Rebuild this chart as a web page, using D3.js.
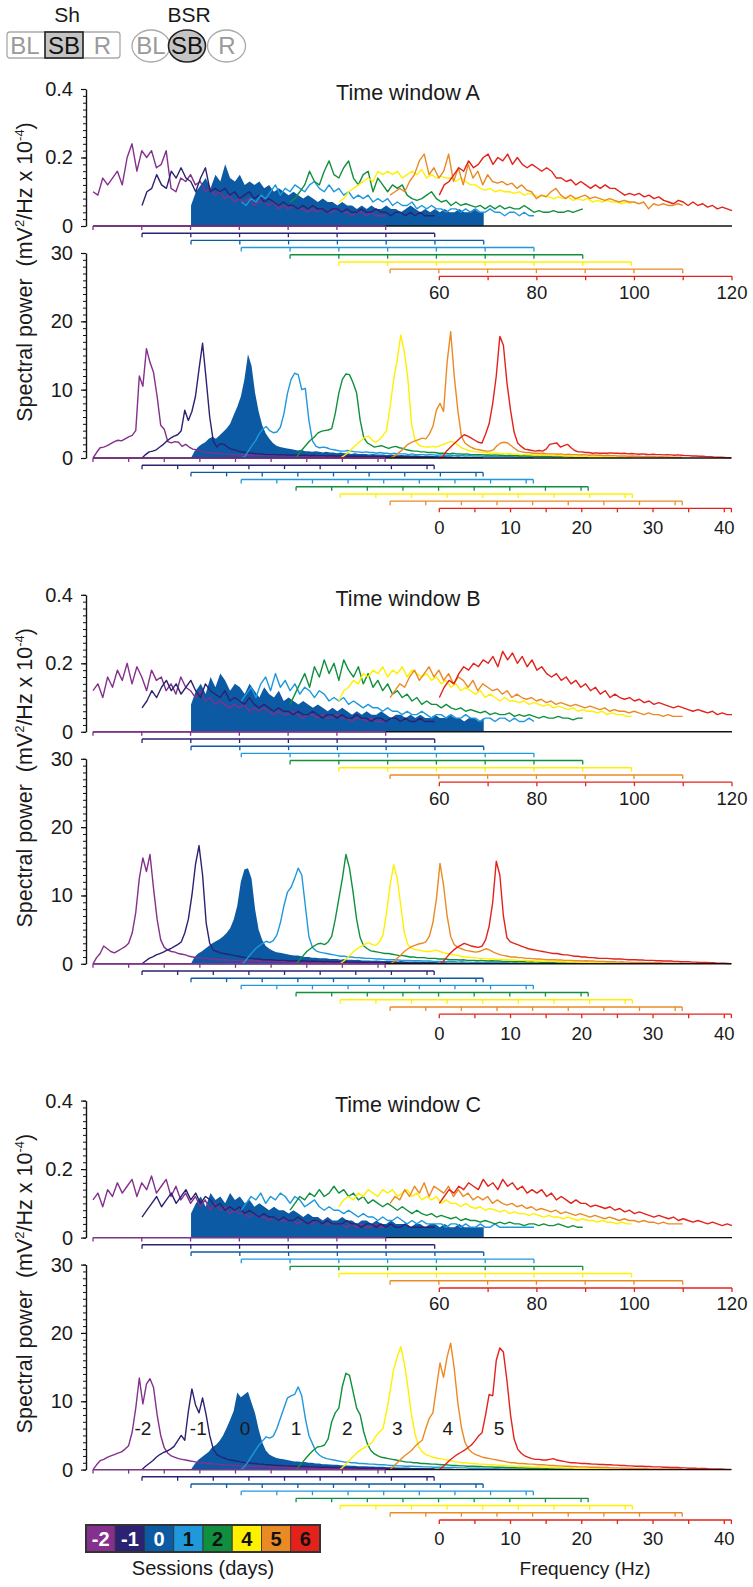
<!DOCTYPE html>
<html><head><meta charset="utf-8">
<script src="https://cdn.jsdelivr.net/npm/d3@7"></script>
<style>
body{margin:0;background:#fff}
svg{display:block}
text{font-family:"Liberation Sans",Arial,sans-serif}
</style>
</head><body>
<svg id="c" width="753" height="1587"></svg>
<script>
// ---------------- DATA ----------------
const sessions = ["-2","-1","0","1","2","4","5","6"];
const sessionColors = ["#84308c","#2b2272","#0b5aa3","#1f98dc","#10903f","#fff000","#ea8a25","#e3221b"];
const legendTextColors = ["#fff","#fff","#fff","#111","#111","#111","#111","#111"];
const peakLabels = ["-2","-1","0","1","2","3","4","5"];
const peakLabelHz = [7.0,7.9,7.6,7.7,7.2,8.0,8.1,8.4];
const peakLabelLevel = 6.0;
const windowNames = ["Time window A","Time window B","Time window C"];
const filledSession = 2;

const gammaStepHz = 1;      // 60..120 Hz
const thetaStepHz = 0.5;    // 0..41 Hz
const gammaShiftHz = [0,10.05,20.1,30.4,40.4,50.4,60.9,71.0];
const thetaShiftHz = [0,6.88,13.75,20.8,28.5,34.7,41.7,48.6];
const gammaRulerTicks = [0,10,20,30,40,50,60];
const thetaRulerTicks = [0,5,10,15,20,25,30,35,40,41];
const gammaTickLabels = [60,80,100,120];
const thetaTickLabels = [0,10,20,30,40];
const gammaYTicks = [0,0.2,0.4];
const thetaYTicks = [0,10,20,30];

// ---- gamma (60-120 Hz), mV^2/Hz x 10^-4 ----
const gA_m2=[.10,.09,.14,.12,.14,.16,.12,.20,.24,.16,.22,.20,.22,.17,.18,.22,.11,.10,.14,.13,.15,.12,.13,.10,.11,.09,.10,.08,.09,.07,.08,.07,.08,.06,.07,.07,.06,.07,.05,.06,.05,.06,.05,.05,.04,.05,.04,.05,.04,.04,.05,.04,.04,.03,.04,.04,.03,.04,.03,.03,.03];
const gA_m1=[.06,.10,.11,.15,.12,.11,.16,.14,.17,.14,.13,.10,.14,.17,.10,.11,.10,.11,.09,.10,.08,.09,.10,.08,.09,.07,.08,.07,.06,.07,.06,.06,.05,.06,.05,.06,.05,.05,.04,.05,.05,.04,.05,.04,.04,.05,.04,.04,.05,.04,.04,.03,.04,.04,.03,.04,.03,.04,.03,.03,.03];
const gA_0=[.06,.10,.12,.14,.11,.15,.13,.18,.14,.13,.15,.12,.13,.12,.13,.11,.12,.10,.11,.10,.09,.10,.09,.08,.09,.08,.07,.08,.07,.07,.06,.07,.06,.06,.05,.06,.05,.06,.05,.05,.06,.05,.05,.04,.05,.06,.05,.04,.05,.04,.05,.04,.05,.04,.04,.05,.04,.04,.05,.04,.04];
const gA_1=[.07,.06,.08,.07,.09,.08,.10,.12,.09,.11,.10,.12,.11,.10,.12,.13,.11,.10,.12,.10,.11,.09,.10,.08,.09,.08,.09,.07,.08,.07,.08,.06,.07,.06,.06,.07,.05,.06,.05,.06,.05,.05,.04,.05,.05,.04,.05,.04,.05,.04,.04,.05,.04,.04,.03,.04,.04,.03,.04,.03,.03];
const gA_2=[.07,.08,.10,.12,.16,.13,.12,.16,.19,.15,.14,.17,.19,.14,.12,.15,.16,.10,.14,.12,.10,.12,.11,.12,.09,.08,.075,.08,.09,.10,.08,.07,.075,.06,.07,.06,.065,.06,.055,.06,.05,.06,.05,.06,.05,.055,.05,.05,.06,.05,.04,.045,.04,.04,.045,.04,.04,.045,.04,.045,.05];
const gA_4=[.07,.08,.10,.11,.12,.13,.14,.13,.16,.15,.16,.15,.16,.14,.15,.16,.15,.165,.14,.15,.14,.145,.14,.14,.13,.14,.13,.12,.12,.11,.105,.11,.10,.105,.10,.10,.095,.10,.09,.095,.09,.085,.09,.085,.08,.085,.08,.085,.075,.08,.075,.08,.07,.075,.07,.075,.07,.07,.065,.07,.065];
const gA_5=[.09,.10,.11,.10,.13,.15,.19,.21,.15,.17,.14,.16,.21,.13,.17,.12,.18,.14,.16,.12,.15,.13,.125,.13,.12,.125,.11,.12,.105,.10,.08,.09,.085,.10,.11,.09,.08,.09,.08,.085,.09,.08,.085,.08,.075,.08,.075,.07,.075,.07,.07,.065,.07,.05,.065,.06,.065,.06,.06,.065,.06];
const gA_6=[.09,.12,.13,.15,.17,.16,.19,.17,.18,.20,.21,.18,.20,.19,.21,.18,.20,.18,.17,.18,.17,.16,.17,.16,.14,.14,.13,.135,.12,.13,.12,.11,.12,.11,.12,.11,.11,.10,.09,.095,.09,.095,.085,.09,.08,.085,.075,.07,.065,.075,.07,.06,.07,.06,.065,.055,.06,.05,.055,.05,.045];

const gB_m2=[.12,.14,.10,.16,.13,.18,.15,.20,.14,.19,.16,.12,.18,.15,.16,.12,.14,.11,.16,.13,.12,.10,.12,.09,.10,.08,.09,.08,.07,.08,.07,.08,.06,.07,.06,.07,.06,.05,.06,.05,.05,.06,.05,.04,.05,.05,.04,.05,.04,.04,.05,.04,.04,.03,.04,.04,.03,.04,.03,.03,.03];
const gB_m1=[.07,.09,.12,.10,.13,.15,.12,.14,.11,.13,.15,.12,.10,.14,.12,.11,.10,.12,.09,.10,.09,.08,.10,.08,.07,.08,.07,.06,.07,.06,.06,.05,.06,.05,.05,.06,.05,.04,.05,.05,.04,.05,.04,.04,.05,.04,.04,.03,.04,.04,.03,.04,.04,.03,.04,.03,.03,.04,.03,.03,.03];
const gB_0=[.08,.12,.14,.11,.16,.13,.17,.15,.12,.14,.13,.11,.14,.12,.10,.13,.11,.10,.12,.09,.10,.09,.08,.09,.08,.07,.08,.07,.06,.07,.06,.07,.06,.05,.06,.05,.06,.05,.05,.06,.05,.04,.05,.05,.04,.05,.04,.05,.04,.04,.05,.04,.04,.05,.04,.04,.03,.04,.04,.03,.04];
const gB_1=[.09,.11,.13,.10,.14,.16,.12,.17,.13,.15,.12,.14,.11,.13,.12,.10,.12,.11,.09,.10,.09,.10,.08,.09,.08,.07,.08,.07,.07,.06,.07,.06,.06,.05,.06,.05,.05,.06,.05,.04,.05,.05,.04,.05,.04,.04,.05,.04,.04,.03,.04,.04,.03,.04,.04,.03,.04,.03,.03,.04,.03];
const gB_2=[.08,.11,.14,.17,.13,.19,.16,.21,.17,.20,.15,.21,.18,.16,.19,.14,.17,.13,.15,.12,.14,.11,.12,.10,.11,.09,.10,.08,.09,.08,.08,.07,.08,.07,.065,.07,.06,.065,.06,.055,.06,.05,.055,.05,.05,.055,.045,.05,.045,.05,.045,.04,.045,.04,.04,.045,.04,.04,.035,.04,.04];
const gB_4=[.09,.12,.13,.15,.14,.17,.16,.18,.17,.19,.16,.18,.17,.19,.16,.18,.17,.16,.17,.15,.16,.14,.15,.13,.14,.12,.13,.12,.11,.12,.10,.11,.10,.09,.10,.09,.09,.085,.09,.08,.085,.08,.075,.08,.07,.075,.07,.065,.07,.06,.065,.06,.06,.055,.06,.05,.055,.05,.05,.045,.045];
const gB_5=[.10,.12,.14,.13,.16,.18,.15,.17,.19,.16,.18,.15,.17,.14,.16,.15,.13,.15,.12,.14,.13,.12,.125,.11,.12,.10,.11,.10,.095,.10,.09,.095,.085,.09,.08,.085,.08,.075,.08,.075,.07,.075,.07,.065,.07,.06,.065,.06,.06,.055,.06,.055,.05,.055,.05,.05,.045,.05,.045,.045,.045];
const gB_6=[.10,.13,.15,.14,.17,.19,.18,.20,.19,.21,.20,.22,.19,.235,.21,.23,.20,.22,.19,.21,.18,.19,.17,.16,.17,.15,.16,.14,.15,.13,.14,.12,.13,.11,.12,.10,.11,.10,.095,.10,.09,.095,.085,.09,.08,.085,.08,.075,.07,.075,.07,.065,.06,.065,.06,.055,.06,.05,.055,.05,.05];

const gC_m2=[.11,.13,.09,.14,.12,.16,.13,.15,.17,.12,.16,.14,.18,.13,.15,.17,.12,.15,.11,.13,.10,.12,.09,.11,.08,.10,.08,.09,.07,.08,.07,.07,.06,.07,.06,.06,.05,.06,.05,.05,.05,.05,.04,.05,.04,.04,.05,.04,.04,.04,.04,.04,.03,.04,.03,.04,.03,.03,.04,.03,.03];
const gC_m1=[.06,.08,.10,.12,.09,.11,.13,.10,.12,.14,.11,.13,.10,.12,.11,.09,.10,.08,.09,.08,.09,.07,.08,.07,.06,.07,.06,.06,.05,.06,.05,.05,.06,.05,.04,.05,.05,.04,.05,.04,.04,.04,.05,.04,.04,.03,.04,.04,.03,.04,.03,.04,.03,.03,.04,.03,.03,.03,.03,.03,.03];
const gC_0=[.07,.10,.12,.09,.13,.11,.12,.10,.13,.11,.12,.10,.11,.09,.10,.09,.08,.09,.08,.08,.07,.08,.07,.06,.07,.06,.06,.05,.06,.05,.05,.06,.05,.05,.04,.05,.05,.04,.05,.04,.04,.05,.04,.04,.04,.03,.04,.04,.03,.04,.04,.03,.04,.03,.03,.04,.03,.03,.03,.03,.03];
const gC_1=[.08,.10,.12,.11,.13,.10,.12,.11,.13,.12,.10,.12,.11,.09,.10,.11,.09,.08,.09,.08,.08,.07,.08,.07,.06,.07,.06,.06,.05,.06,.05,.05,.06,.05,.04,.05,.04,.05,.04,.04,.04,.04,.03,.04,.04,.03,.04,.03,.03,.04,.03,.03,.04,.03,.03,.03,.03,.03,.03,.03,.03];
const gC_2=[.08,.10,.12,.11,.13,.12,.14,.12,.13,.15,.13,.14,.12,.13,.11,.12,.10,.11,.10,.09,.10,.09,.08,.09,.08,.07,.08,.07,.065,.07,.06,.065,.06,.055,.06,.05,.055,.05,.05,.045,.05,.045,.04,.045,.04,.045,.04,.04,.035,.04,.04,.035,.04,.035,.035,.04,.035,.03,.035,.03,.03];
const gC_4=[.09,.11,.12,.11,.13,.12,.14,.13,.12,.14,.13,.14,.12,.13,.14,.12,.13,.11,.12,.11,.12,.10,.11,.10,.10,.09,.10,.09,.085,.09,.08,.085,.08,.075,.08,.07,.075,.07,.07,.065,.07,.065,.06,.065,.06,.06,.055,.06,.055,.05,.055,.05,.05,.045,.05,.045,.045,.04,.045,.04,.04];
const gC_5=[.10,.12,.11,.14,.12,.15,.13,.16,.12,.15,.14,.13,.15,.12,.14,.12,.13,.11,.12,.11,.12,.10,.11,.10,.095,.10,.09,.095,.085,.09,.08,.085,.08,.075,.08,.07,.075,.07,.065,.07,.065,.06,.065,.06,.055,.06,.055,.05,.055,.05,.05,.045,.05,.045,.045,.04,.045,.04,.04,.04,.04];
const gC_6=[.10,.12,.14,.13,.15,.14,.16,.15,.14,.17,.15,.16,.14,.17,.15,.16,.14,.15,.13,.14,.13,.14,.12,.13,.11,.12,.11,.10,.11,.10,.10,.09,.095,.09,.085,.09,.08,.085,.075,.08,.07,.075,.07,.065,.06,.065,.06,.055,.06,.05,.055,.05,.045,.05,.045,.04,.045,.04,.035,.04,.035];

// ---- theta (0-41 Hz, 0.5 Hz bins), mV^2/Hz x 10^-4 ----
const tA_m2=[0,0.8,1.5,1.6,1.8,2.1,2.4,2.6,2.5,2.8, 3.1,3.3,4.0,12.0,10.5,16.0,14.0,12.5,9.0,4.8, 4.2,2.4,2.2,2.4,2.3,1.7,2.0,1.6,1.3,1.2, 1.0,0.9,0.8,0.8,0.7,0.7,0.6,0.6,0.6,0.5, 0.5,0.5,0.5,0.45,0.5,0.45,0.45,0.4,0.45,0.4, 0.4,0.4,0.35,0.4,0.35,0.35,0.35,0.3,0.35,0.3, 0.3,0.3,0.3,0.25,0.3,0.25,0.25,0.25,0.2,0.25, 0.2,0.2,0.2,0.2,0.15,0.2,0.15,0.15,0.15,0.1, 0.1,0.1,0.1];
const tA_m1=[0,0.5,0.9,1.0,1.2,1.6,2.0,2.5,2.9,3.2, 3.4,4.0,7.0,5.5,6.8,9.0,13.0,16.8,11.5,6.0, 2.5,1.6,2.1,2.0,1.6,1.3,1.2,1.0,0.9,0.8, 0.7,0.7,0.6,0.6,0.55,0.5,0.5,0.5,0.45,0.5, 0.45,0.45,0.4,0.45,0.4,0.4,0.4,0.35,0.4,0.35, 0.35,0.35,0.3,0.35,0.3,0.3,0.3,0.3,0.25,0.3, 0.25,0.25,0.25,0.25,0.2,0.25,0.2,0.2,0.2,0.2, 0.2,0.15,0.2,0.15,0.15,0.15,0.1,0.15,0.1,0.1, 0.1,0.1,0.1];
const tA_0=[0,1.0,1.6,2.0,2.3,2.8,3.1,2.8,3.3,3.8, 4.3,5.0,6.3,7.5,9.0,11.5,15.2,13.5,9.5,6.8, 4.8,3.6,2.8,2.2,1.8,1.6,1.5,1.4,1.3,1.2, 1.1,1.2,1.0,1.0,0.9,1.0,0.9,0.8,0.9,0.8, 0.8,0.7,0.8,0.7,0.7,0.6,0.7,0.6,0.6,0.6, 0.5,0.6,0.5,0.5,0.5,0.45,0.5,0.45,0.4,0.45, 0.4,0.4,0.35,0.4,0.35,0.3,0.35,0.3,0.3,0.3, 0.25,0.3,0.25,0.25,0.2,0.25,0.2,0.2,0.2,0.15, 0.15,0.15,0.15];
const tA_1=[0,0.2,1.0,1.8,2.5,3.5,4.2,4.6,4.0,3.7, 3.8,4.5,6.5,9.5,11.5,12.4,12.2,10.0,10.2,5.5, 2.5,1.7,1.5,1.6,1.5,1.3,1.2,1.1,1.0,1.0, 1.1,1.0,0.9,0.9,0.8,0.9,0.8,0.8,0.7,0.8, 0.7,0.7,0.6,0.7,0.6,0.6,0.6,0.5,0.6,0.5, 0.5,0.5,0.45,0.5,0.45,0.4,0.45,0.4,0.4,0.4, 0.35,0.4,0.35,0.3,0.35,0.3,0.3,0.3,0.25,0.3, 0.25,0.25,0.2,0.25,0.2,0.2,0.2,0.15,0.2,0.15, 0.15,0.15,0.1];
const tA_2=[0,0.8,1.4,2.0,2.6,3.0,3.6,3.9,4.0,4.1, 4.3,6.5,9.5,11.5,12.3,12.2,11.0,9.5,5.5,3.0, 2.2,1.9,1.6,1.7,1.8,1.6,1.4,1.6,1.7,1.5, 1.4,1.2,1.1,1.0,1.0,0.9,0.9,0.8,0.8,0.8, 0.7,0.7,0.7,0.6,0.7,0.6,0.6,0.55,0.6,0.5, 0.5,0.5,0.5,0.45,0.45,0.4,0.45,0.4,0.4,0.35, 0.4,0.35,0.35,0.3,0.35,0.3,0.3,0.25,0.3,0.25, 0.25,0.25,0.2,0.25,0.2,0.2,0.2,0.15,0.15,0.15, 0.15,0.1,0.1];
const tA_4=[0,0.3,0.7,1.2,1.7,2.2,2.6,3.1,3.2,2.6, 2.3,2.7,3.3,4.0,7.5,11.5,14.4,18.0,15.5,11.5, 5.0,2.6,1.9,1.7,1.6,1.6,1.7,1.6,1.8,2.0, 2.2,2.4,2.3,1.9,1.5,1.3,1.1,1.0,0.9,0.9, 0.8,0.8,0.7,0.7,0.7,0.65,0.6,0.65,0.6,0.55, 0.55,0.5,0.5,0.5,0.45,0.45,0.4,0.45,0.4,0.4, 0.35,0.35,0.35,0.3,0.3,0.3,0.25,0.3,0.25,0.25, 0.2,0.25,0.2,0.2,0.2,0.15,0.15,0.15,0.1,0.15, 0.1,0.1,0.1];
const tA_5=[0,0.2,0.6,1.0,1.5,2.0,2.3,2.5,2.7,2.9, 2.8,3.5,4.6,7.0,8.0,6.8,14.0,18.5,12.0,7.0, 3.2,2.2,1.8,1.5,1.3,1.2,1.1,1.0,1.0,1.2, 1.8,2.2,2.3,2.2,1.8,1.4,1.0,0.9,0.8,0.8, 0.7,0.7,0.65,0.7,0.6,0.6,0.6,0.55,0.6,0.5, 0.55,0.5,0.5,0.45,0.5,0.45,0.4,0.45,0.4,0.4, 0.35,0.4,0.35,0.35,0.3,0.3,0.3,0.25,0.3,0.25, 0.25,0.2,0.25,0.2,0.2,0.15,0.2,0.15,0.15,0.1, 0.1,0.1,0.1];
const tA_6=[0,0.2,1.0,1.5,2.0,2.5,3.0,3.4,3.2,2.9, 2.6,2.3,2.2,3.5,5.0,8.0,12.0,17.8,16.5,11.0, 7.0,3.8,2.2,1.7,1.3,1.2,1.1,1.0,1.1,1.0, 1.3,2.0,2.1,2.2,1.6,1.8,2.0,1.5,1.1,0.9, 0.9,0.8,0.8,0.7,0.75,0.7,0.7,0.7,0.75,0.7, 0.7,0.65,0.7,0.6,0.65,0.6,0.55,0.6,0.55,0.5, 0.55,0.5,0.5,0.45,0.5,0.45,0.4,0.45,0.4,0.35, 0.35,0.3,0.3,0.25,0.25,0.2,0.2,0.15,0.12,0.1, 0.08,0.05,0.03];

const tB_m2=[0,0.9,1.5,2.6,2.2,1.8,1.6,1.9,2.2,2.5, 3.0,4.5,7.5,12.5,15.5,13.5,16.0,11.0,6.5,3.5, 2.4,2.0,1.8,1.7,1.5,1.4,1.3,1.1,1.0,0.9, 0.9,0.8,0.8,0.7,0.7,0.6,0.6,0.6,0.55,0.5, 0.5,0.5,0.45,0.5,0.45,0.4,0.45,0.4,0.4,0.4, 0.35,0.4,0.35,0.35,0.3,0.35,0.3,0.3,0.3,0.25, 0.3,0.25,0.25,0.25,0.2,0.25,0.2,0.2,0.2,0.2, 0.15,0.2,0.15,0.15,0.15,0.1,0.15,0.1,0.1,0.1, 0.1,0.1,0.1];
const tB_m1=[0,0.4,0.8,1.0,1.3,1.5,1.7,2.0,2.2,2.5, 2.8,3.2,4.5,6.5,10.0,14.5,17.3,13.0,6.0,3.0, 2.0,1.8,1.6,1.5,1.4,1.3,1.2,1.1,1.0,0.9, 0.8,0.8,0.7,0.7,0.6,0.6,0.6,0.55,0.5,0.5, 0.5,0.45,0.45,0.4,0.45,0.4,0.4,0.35,0.4,0.35, 0.35,0.3,0.35,0.3,0.3,0.3,0.25,0.3,0.25,0.25, 0.25,0.2,0.25,0.2,0.2,0.2,0.2,0.15,0.2,0.15, 0.15,0.15,0.15,0.1,0.15,0.1,0.1,0.1,0.1,0.1, 0.1,0.1,0.1];
const tB_0=[0,1.0,1.5,1.8,2.2,2.6,3.0,3.3,3.6,4.0, 4.5,5.2,6.5,8.5,12.0,13.8,14.0,12.5,8.0,5.0, 3.5,2.6,2.2,1.9,1.7,1.6,1.5,1.4,1.3,1.2, 1.2,1.1,1.0,1.0,0.9,0.9,0.8,0.8,0.8,0.7, 0.7,0.7,0.6,0.7,0.6,0.6,0.55,0.6,0.5,0.5, 0.5,0.45,0.5,0.45,0.4,0.45,0.4,0.4,0.35,0.4, 0.35,0.35,0.3,0.35,0.3,0.3,0.25,0.3,0.25,0.25, 0.2,0.25,0.2,0.2,0.2,0.15,0.2,0.15,0.15,0.15, 0.1,0.1,0.1];
const tB_1=[0,0.3,1.0,1.6,2.2,2.6,3.0,3.3,3.1,3.4, 4.2,6.0,8.5,10.5,11.2,12.5,14.0,13.0,8.5,4.0, 2.4,1.9,1.7,1.6,1.5,1.4,1.3,1.2,1.1,1.1, 1.0,1.0,0.9,0.9,0.85,0.8,0.8,0.75,0.7,0.7, 0.65,0.6,0.6,0.6,0.55,0.5,0.5,0.5,0.45,0.45, 0.45,0.4,0.4,0.4,0.35,0.35,0.35,0.3,0.35,0.3, 0.3,0.25,0.3,0.25,0.25,0.2,0.25,0.2,0.2,0.2, 0.2,0.15,0.2,0.15,0.15,0.15,0.1,0.15,0.1,0.1, 0.1,0.1,0.1];
const tB_2=[0,0.6,1.2,1.8,2.2,2.6,2.9,3.0,2.8,3.2, 4.0,6.5,9.5,12.5,16.0,14.0,10.5,6.5,3.8,2.6, 2.2,1.9,1.8,1.7,1.6,1.5,1.5,1.4,1.3,1.2, 1.2,1.1,1.0,1.0,0.9,0.9,0.9,0.8,0.8,0.8, 0.7,0.7,0.7,0.6,0.6,0.6,0.55,0.6,0.5,0.5, 0.5,0.45,0.5,0.45,0.4,0.45,0.4,0.4,0.35,0.35, 0.35,0.3,0.35,0.3,0.3,0.25,0.3,0.25,0.25,0.2, 0.2,0.25,0.2,0.2,0.15,0.2,0.15,0.15,0.15,0.1, 0.1,0.1,0.1];
const tB_4=[0,0.4,0.9,1.4,1.9,2.3,2.6,2.9,3.1,2.8, 2.7,3.2,4.2,7.5,11.5,14.5,12.5,8.5,4.5,2.8, 2.3,2.1,2.0,1.9,1.8,1.8,1.9,2.0,1.8,1.6, 1.5,1.4,1.3,1.2,1.1,1.0,1.0,0.9,0.9,0.8, 0.8,0.75,0.7,0.7,0.65,0.65,0.6,0.6,0.55,0.55, 0.5,0.5,0.5,0.45,0.45,0.4,0.4,0.4,0.35,0.35, 0.35,0.3,0.3,0.3,0.25,0.3,0.25,0.25,0.2,0.25, 0.2,0.2,0.2,0.15,0.2,0.15,0.15,0.15,0.1,0.1, 0.1,0.1,0.1];
const tB_5=[0,0.3,0.8,1.3,1.8,2.2,2.5,2.7,2.9,3.0, 3.2,4.0,6.0,9.5,14.7,11.5,7.0,4.0,2.8,2.4, 2.2,2.0,1.9,1.8,1.7,1.8,2.0,2.2,2.0,1.7, 1.5,1.3,1.2,1.1,1.0,1.0,0.9,0.9,0.8,0.8, 0.75,0.7,0.7,0.65,0.6,0.6,0.6,0.55,0.55,0.5, 0.5,0.5,0.45,0.45,0.4,0.45,0.4,0.4,0.35,0.35, 0.35,0.3,0.3,0.3,0.25,0.3,0.25,0.25,0.2,0.2, 0.2,0.2,0.15,0.2,0.15,0.15,0.15,0.1,0.1,0.1, 0.1,0.1,0.1];
const tB_6=[0,0.3,0.9,1.5,2.0,2.4,2.7,3.0,2.8,2.6, 2.5,2.4,2.6,3.5,5.5,9.0,15.0,13.0,7.0,3.8, 3.2,3.0,2.8,2.6,2.4,2.2,2.1,2.0,1.9,1.8, 1.7,1.6,1.5,1.5,1.4,1.3,1.3,1.2,1.1,1.1, 1.0,1.0,0.9,0.9,0.85,0.8,0.8,0.8,0.75,0.7, 0.7,0.7,0.65,0.6,0.6,0.6,0.55,0.55,0.5,0.5, 0.5,0.45,0.45,0.4,0.4,0.4,0.35,0.35,0.3,0.3, 0.3,0.25,0.25,0.2,0.2,0.2,0.15,0.15,0.1,0.1, 0.08,0.05,0.03];

const tC_m2=[0,0.7,1.3,1.5,1.8,2.0,2.2,2.4,2.6,3.0, 3.5,5.5,9.0,13.4,9.6,12.5,13.3,12.0,8.0,5.0, 3.2,2.4,2.0,1.8,1.6,1.5,1.4,1.3,1.2,1.1, 1.0,1.0,0.9,0.9,0.8,0.8,0.7,0.7,0.65,0.6, 0.6,0.55,0.55,0.5,0.5,0.45,0.45,0.45,0.4,0.4, 0.4,0.35,0.35,0.35,0.3,0.3,0.3,0.3,0.25,0.25, 0.25,0.25,0.2,0.25,0.2,0.2,0.2,0.2,0.15,0.15, 0.15,0.15,0.15,0.1,0.15,0.1,0.1,0.1,0.1,0.1, 0.1,0.1,0.1];
const tC_m1=[0,0.5,0.9,1.3,1.8,2.2,2.5,2.7,3.0,3.4, 4.2,5.0,4.3,8.5,11.8,9.5,8.3,10.5,8.0,5.0, 3.0,2.2,1.9,1.7,1.5,1.4,1.3,1.2,1.1,1.0, 1.0,0.9,0.9,0.8,0.8,0.7,0.7,0.65,0.6,0.6, 0.55,0.55,0.5,0.5,0.45,0.45,0.45,0.4,0.4,0.4, 0.35,0.35,0.35,0.3,0.3,0.3,0.3,0.25,0.25,0.25, 0.25,0.2,0.2,0.2,0.2,0.2,0.15,0.15,0.15,0.15, 0.15,0.1,0.15,0.1,0.1,0.1,0.1,0.1,0.1,0.1, 0.1,0.1,0.1];
const tC_0=[0,0.8,1.4,1.8,2.2,2.6,3.3,3.6,4.2,5.0, 6.1,7.3,8.6,11.3,10.6,11.0,11.4,9.8,8.2,5.9, 4.0,2.8,2.2,1.9,1.7,1.6,1.5,1.4,1.3,1.2, 1.2,1.1,1.1,1.0,1.0,0.9,0.9,0.8,0.8,0.75, 0.7,0.7,0.65,0.6,0.6,0.55,0.55,0.5,0.5,0.5, 0.45,0.45,0.4,0.4,0.4,0.35,0.35,0.35,0.3,0.3, 0.3,0.3,0.25,0.25,0.25,0.2,0.2,0.2,0.2,0.15, 0.15,0.15,0.15,0.15,0.1,0.1,0.1,0.1,0.1,0.1, 0.1,0.1,0.1];
const tC_1=[0,0.5,1.2,2.0,2.8,3.6,4.2,4.8,4.6,4.9, 6.0,7.5,9.0,10.5,10.8,11.0,12.1,10.8,7.5,5.0, 3.8,2.6,2.1,1.8,1.6,1.5,1.4,1.3,1.2,1.1, 1.1,1.0,1.0,0.9,0.9,0.85,0.8,0.8,0.75,0.7, 0.7,0.65,0.6,0.6,0.55,0.55,0.5,0.5,0.5,0.45, 0.45,0.4,0.4,0.4,0.35,0.35,0.35,0.3,0.3,0.3, 0.3,0.25,0.25,0.25,0.2,0.2,0.2,0.2,0.15,0.15, 0.15,0.15,0.15,0.1,0.1,0.1,0.1,0.1,0.1,0.1, 0.1,0.1,0.1];
const tC_2=[0,0.6,1.2,1.8,2.4,2.9,3.3,3.4,3.6,4.5, 7.0,8.3,9.0,12.2,14.1,13.8,11.4,9.0,8.0,5.5, 3.8,2.8,2.3,2.0,1.8,1.7,1.6,1.5,1.4,1.3, 1.2,1.1,1.1,1.0,1.0,0.9,0.9,0.85,0.8,0.8, 0.75,0.7,0.7,0.65,0.6,0.6,0.55,0.55,0.5,0.5, 0.5,0.45,0.45,0.4,0.4,0.4,0.35,0.35,0.35,0.3, 0.3,0.3,0.25,0.25,0.25,0.2,0.2,0.2,0.2,0.15, 0.15,0.15,0.15,0.1,0.1,0.1,0.1,0.1,0.1,0.1, 0.1,0.1,0.1];
const tC_4=[0,0.5,1.0,1.6,2.1,2.6,3.0,3.3,3.6,4.0, 4.9,5.5,6.0,8.5,11.5,14.7,16.5,18.0,15.5,12.0, 8.0,5.2,3.4,2.6,2.2,2.0,1.8,1.7,1.6,1.5, 1.4,1.3,1.2,1.1,1.0,1.0,0.95,0.9,0.85,0.8, 0.8,0.75,0.7,0.7,0.65,0.6,0.6,0.55,0.55,0.5, 0.5,0.5,0.45,0.45,0.4,0.4,0.4,0.35,0.35,0.3, 0.3,0.3,0.3,0.25,0.25,0.25,0.2,0.2,0.2,0.2, 0.15,0.15,0.15,0.15,0.1,0.1,0.1,0.1,0.1,0.1, 0.1,0.1,0.1];
const tC_5=[0,0.5,1.0,1.5,2.0,2.4,2.8,3.4,3.9,4.3, 6.0,7.5,8.3,12.0,15.6,13.5,16.5,18.5,14.8,9.8, 6.2,4.0,3.0,2.5,2.2,2.0,1.8,1.7,1.6,1.5, 1.4,1.3,1.2,1.1,1.0,1.0,0.9,0.9,0.85,0.8, 0.8,0.75,0.7,0.7,0.65,0.6,0.6,0.55,0.55,0.5, 0.5,0.45,0.45,0.4,0.4,0.4,0.35,0.35,0.35,0.3, 0.3,0.3,0.25,0.25,0.25,0.2,0.2,0.2,0.2,0.15, 0.15,0.15,0.15,0.1,0.1,0.1,0.1,0.1,0.1,0.1, 0.1,0.1,0.1];
const tC_6=[0,0.4,0.9,1.4,1.8,2.2,2.5,2.8,3.2,3.6, 4.2,4.9,5.4,8.0,11.0,10.8,16.0,17.8,17.2,13.0, 8.0,4.5,3.0,2.4,2.0,1.8,1.6,1.5,1.5,1.4, 1.4,1.5,1.6,1.4,1.3,1.2,1.1,1.0,1.0,0.95, 0.9,0.9,0.85,0.8,0.8,0.75,0.75,0.7,0.7,0.65, 0.65,0.6,0.6,0.55,0.55,0.5,0.5,0.5,0.45,0.45, 0.4,0.4,0.4,0.35,0.35,0.3,0.3,0.3,0.25,0.25, 0.2,0.2,0.2,0.15,0.15,0.15,0.1,0.1,0.1,0.08, 0.06,0.04,0.03];

// tables built from the arrays
const gammaTable = [
  [gA_m2,gA_m1,gA_0,gA_1,gA_2,gA_4,gA_5,gA_6],
  [gB_m2,gB_m1,gB_0,gB_1,gB_2,gB_4,gB_5,gB_6],
  [gC_m2,gC_m1,gC_0,gC_1,gC_2,gC_4,gC_5,gC_6]];
const thetaTable = [
  [tA_m2,tA_m1,tA_0,tA_1,tA_2,tA_4,tA_5,tA_6],
  [tB_m2,tB_m1,tB_0,tB_1,tB_2,tB_4,tB_5,tB_6],
  [tC_m2,tC_m1,tC_0,tC_1,tC_2,tC_4,tC_5,tC_6]];

// ---------------- LAYOUT ----------------
const svg = d3.select("#c");
const panelGap = 505.8;
const rulerGap = 7.19;
const gx = d3.scaleLinear().domain([0,131]).range([93,732]);
const tx = d3.scaleLinear().domain([0,89.6]).range([93,731.4]);
const gy = d3.scaleLinear().domain([0,0.4]).range([226,89]);
const ty = d3.scaleLinear().domain([0,30]).range([458,253]);
const axisX = 86;
const lw = 1.4;
const ink = "#1a1a1a";

function drawYAxis(g, y, major, maxV, minorStep, fmt){
  g.append("g").attr("transform",`translate(${axisX},0)`)
    .call(d3.axisLeft(y).tickValues(d3.range(0,maxV+minorStep/2,minorStep)).tickSize(3).tickSizeOuter(0).tickFormat(""))
    .call(a=>a.select(".domain").remove())
    .call(a=>a.selectAll("line").attr("stroke","#111").attr("stroke-width",1));
  g.append("g").attr("transform",`translate(${axisX},0)`)
    .call(d3.axisLeft(y).tickValues(major).tickSize(5).tickPadding(8).tickSizeOuter(0).tickFormat(fmt))
    .call(a=>a.select(".domain").attr("stroke","#111").attr("stroke-width",1.4))
    .call(a=>a.selectAll("line").attr("stroke","#111").attr("stroke-width",1.2))
    .call(a=>a.selectAll("text").attr("font-size",20).attr("font-family","Liberation Sans, Arial, sans-serif").style("fill",ink));
}

function drawRuler(g, xs, shift, span, ticks, yPos, color){
  g.append("line").attr("x1",xs(shift)).attr("x2",xs(shift+span))
    .attr("y1",yPos).attr("y2",yPos).attr("stroke",color).attr("stroke-width",1.4);
  g.selectAll(null).data(ticks).join("line")
    .attr("x1",d=>xs(shift+d)).attr("x2",d=>xs(shift+d))
    .attr("y1",yPos).attr("y2",yPos+4).attr("stroke",color).attr("stroke-width",1.3);
}

windowNames.forEach((title,p)=>{
  const g = svg.append("g").attr("transform",`translate(0,${p*panelGap})`);

  g.append("text").attr("x",408).attr("y",100).attr("text-anchor","middle")
    .attr("font-size",21.5).style("fill",ink).text(title);

  const yl = g.append("text").attr("transform","translate(32,272) rotate(-90)")
    .attr("text-anchor","middle").attr("font-size",21.5).style("fill",ink);
  yl.append("tspan").text("Spectral power\u00a0\u00a0(mV");
  yl.append("tspan").attr("font-size",13).attr("dy",-8).text("2");
  yl.append("tspan").attr("dy",8).text("/Hz x 10");
  yl.append("tspan").attr("font-size",13).attr("dy",-8).text("-4");
  yl.append("tspan").attr("dy",8).text(")");

  // ---- gamma (top) ----
  const gData = gammaTable[p];
  const gLine = (i)=>d3.line().x((v,k)=>gx(k*gammaStepHz+gammaShiftHz[i])).y(v=>gy(v));
  const gArea = (i)=>d3.area().x((v,k)=>gx(k*gammaStepHz+gammaShiftHz[i])).y0(gy(0)).y1(v=>gy(v));
  g.append("path").attr("d",gArea(filledSession)(gData[filledSession])).attr("fill",sessionColors[filledSession]);
  gData.forEach((vals,i)=>{
    if(i===filledSession) return;
    g.append("path").attr("d",gLine(i)(vals)).attr("fill","none")
      .attr("stroke",sessionColors[i]).attr("stroke-width",lw).attr("stroke-linejoin","round");
  });
  g.append("line").attr("x1",gx(0)).attr("x2",gx(131)).attr("y1",gy(0)).attr("y2",gy(0))
    .attr("stroke","#111").attr("stroke-width",1.4);
  sessions.forEach((s,i)=>drawRuler(g,gx,gammaShiftHz[i],60,gammaRulerTicks,gy(0)+i*rulerGap,sessionColors[i]));
  g.selectAll(null).data(gammaTickLabels).join("text")
    .attr("x",d=>gx(d-60+gammaShiftHz[7])).attr("y",gy(0)+7*rulerGap+22.5)
    .attr("text-anchor","middle").attr("font-size",18.5).style("fill",ink).text(d=>d);
  drawYAxis(g, gy, gammaYTicks, 0.4, 0.02, d=>d===0?"0":d.toFixed(1));

  // ---- theta (bottom) ----
  const tData = thetaTable[p];
  const tLine = (i)=>d3.line().x((v,k)=>tx(k*thetaStepHz+thetaShiftHz[i])).y(v=>ty(v));
  const tArea = (i)=>d3.area().x((v,k)=>tx(k*thetaStepHz+thetaShiftHz[i])).y0(ty(0)).y1(v=>ty(v));
  g.append("path").attr("d",tArea(filledSession)(tData[filledSession])).attr("fill",sessionColors[filledSession]);
  tData.forEach((vals,i)=>{
    if(i===filledSession) return;
    g.append("path").attr("d",tLine(i)(vals)).attr("fill","none")
      .attr("stroke",sessionColors[i]).attr("stroke-width",lw).attr("stroke-linejoin","round");
  });
  g.append("line").attr("x1",tx(0)).attr("x2",tx(89.6)).attr("y1",ty(0)).attr("y2",ty(0))
    .attr("stroke","#111").attr("stroke-width",1.4);
  sessions.forEach((s,i)=>drawRuler(g,tx,thetaShiftHz[i],41,thetaRulerTicks,ty(0)+i*rulerGap,sessionColors[i]));
  g.selectAll(null).data(thetaTickLabels).join("text")
    .attr("x",d=>tx(d+thetaShiftHz[7])).attr("y",ty(0)+7*rulerGap+25.5)
    .attr("text-anchor","middle").attr("font-size",18.5).style("fill",ink).text(d=>d);
  drawYAxis(g, ty, thetaYTicks, 30, 1, d=>d);

  if(p===2){
    g.selectAll(null).data(peakLabels).join("text")
      .attr("x",(d,i)=>tx(peakLabelHz[i]+thetaShiftHz[i])).attr("y",ty(peakLabelLevel))
      .attr("dy","0.35em").attr("text-anchor","middle").attr("font-size",19).style("fill",ink).text(d=>d);
  }
});

// ---------------- TOP-LEFT KEY ----------------
const key = svg.append("g");
key.append("text").attr("x",67).attr("y",22).attr("text-anchor","middle").attr("font-size",21).style("fill",ink).text("Sh");
key.append("text").attr("x",189).attr("y",22).attr("text-anchor","middle").attr("font-size",21).style("fill",ink).text("BSR");
key.append("rect").attr("x",7).attr("y",32).attr("width",113).attr("height",26).attr("rx",3)
  .attr("fill","none").attr("stroke","#aaa").attr("stroke-width",1.3);
key.append("rect").attr("x",45).attr("y",32).attr("width",38).attr("height",26)
  .attr("fill","#c4c4c4").attr("stroke","#222").attr("stroke-width",1.6);
[["BL",25,"#9a9a9a"],["SB",64,"#111"],["R",102.5,"#9a9a9a"]].forEach(([t,x,c])=>
  key.append("text").attr("x",x).attr("y",54).attr("text-anchor","middle").attr("font-size",24).style("fill",c).text(t));
[[151,"#aaa"],[226.5,"#aaa"]].forEach(([cx,c])=>
  key.append("ellipse").attr("cx",cx).attr("cy",46).attr("rx",19).attr("ry",16)
    .attr("fill","none").attr("stroke",c).attr("stroke-width",1.3));
key.append("ellipse").attr("cx",187).attr("cy",46).attr("rx",18.5).attr("ry",16)
  .attr("fill","#c4c4c4").attr("stroke","#222").attr("stroke-width",1.6);
[["BL",151,"#9a9a9a"],["SB",187,"#111"],["R",227,"#9a9a9a"]].forEach(([t,x,c])=>
  key.append("text").attr("x",x).attr("y",54).attr("text-anchor","middle").attr("font-size",24).style("fill",c).text(t));

// ---------------- BOTTOM LEGEND ----------------
const legX = d3.scaleBand().domain(sessions).range([86,320]);
const leg = svg.append("g").attr("transform","translate(0,1525)");
leg.selectAll("rect.c").data(sessions).join("rect").attr("class","c")
  .attr("x",d=>legX(d)).attr("y",0).attr("width",legX.bandwidth()).attr("height",27)
  .attr("fill",(d,i)=>sessionColors[i]).attr("stroke","#333").attr("stroke-width",0.8);
leg.append("rect").attr("x",86).attr("y",0).attr("width",234).attr("height",27)
  .attr("fill","none").attr("stroke","#333").attr("stroke-width",2);
leg.selectAll("text").data(sessions).join("text")
  .attr("x",d=>legX(d)+legX.bandwidth()/2).attr("y",14).attr("dy","0.36em")
  .attr("text-anchor","middle").attr("font-size",20).attr("font-weight","bold")
  .style("fill",(d,i)=>legendTextColors[i]).text(d=>d);
svg.append("text").attr("x",203).attr("y",1575).attr("text-anchor","middle").attr("font-size",20).style("fill",ink).text("Sessions (days)");
svg.append("text").attr("x",585).attr("y",1575).attr("text-anchor","middle").attr("font-size",19).style("fill",ink).text("Frequency (Hz)");
</script>
</body></html>
